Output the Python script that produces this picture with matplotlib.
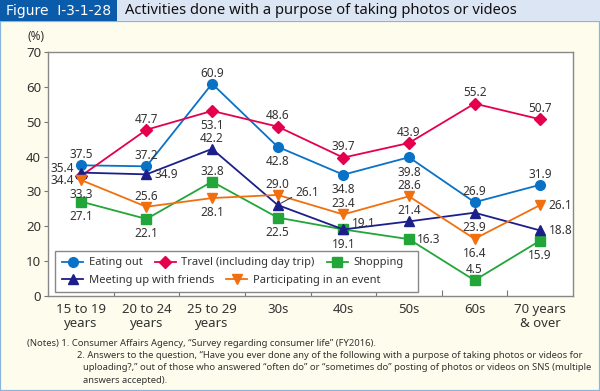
import matplotlib
matplotlib.use('Agg')
import matplotlib.pyplot as plt
from matplotlib.patches import Rectangle

plt.rcParams['font.family'] = ['Noto Sans', 'DejaVu Sans']

# data
categories = ['15 to 19\nyears', '20 to 24\nyears', '25 to 29\nyears', '30s', '40s', '50s', '60s', '70 years\n& over']
eating_out = [37.5, 37.2, 60.9, 42.8, 34.8, 39.8, 26.9, 31.9]
travel = [34.4, 47.7, 53.1, 48.6, 39.7, 43.9, 55.2, 50.7]
shopping = [27.1, 22.1, 32.8, 22.5, 19.1, 16.3, 4.5, 15.9]
meeting = [35.4, 34.9, 42.2, 26.1, 19.1, 21.4, 23.9, 18.8]
event = [33.3, 25.6, 28.1, 29.0, 23.4, 28.6, 16.4, 26.1]

names = ['Eating out', 'Travel (including day trip)', 'Shopping',
         'Meeting up with friends', 'Participating in an event']
series = [eating_out, travel, shopping, meeting, event]
colors = ['#0a72c6', '#e5004f', '#22a639', '#1c1f8a', '#f07010']
markers = ['o', 'D', 's', '^', 'v']
msizes = [7, 6.5, 6.5, 7, 7]

# where each value label sits: a=above, b=below, l/L=left (low/high), r/R=right (low/high), x=leader line
label_pos = [
    ['a', 'a', 'a', 'b', 'b', 'b', 'a', 'a'],
    ['l', 'a', 'b', 'a', 'a', 'a', 'a', 'a'],
    ['b', 'b', 'a', 'b', 'b', 'r', 'a', 'b'],
    ['L', 'r', 'a', 'x', 'R', 'a', 'b', 'r'],
    ['b', 'a', 'b', 'a', 'a', 'a', 'b', 'r'],
]
offsets = {
    'a': ((0, 3), 'center', 'bottom'),
    'b': ((0, -6), 'center', 'top'),
    'l': ((-5, -3), 'right', 'center'),
    'L': ((-5, 3), 'right', 'center'),
    'r': ((6, 0), 'left', 'center'),
    'R': ((6, 4), 'left', 'center'),
}

BG = '#fefcec'
txt = '#333333'

fig = plt.figure(figsize=(6, 3.91), dpi=100, facecolor=BG)

# header bar and frame
fig.patches.append(Rectangle((0, 0), 1, 1 - 21 / 391, transform=fig.transFigure,
                             facecolor='none', edgecolor='#8ab6de', lw=1.6, zorder=0))
fig.patches.append(Rectangle((0, 1 - 21 / 391), 1, 21 / 391, transform=fig.transFigure,
                             facecolor='#dce5f3', edgecolor='none', zorder=1))
fig.patches.append(Rectangle((0, 1 - 21 / 391), 117 / 600, 21 / 391, transform=fig.transFigure,
                             facecolor='#0b5bab', edgecolor='none', zorder=2))
fig.text(6 / 600, 1 - 10.5 / 391, 'Figure  I-3-1-28', color='white', fontsize=10,
         family=['Liberation Sans Narrow', 'DejaVu Sans'], va='center', ha='left', zorder=3)
fig.text(125 / 600, 1 - 10.5 / 391, 'Activities done with a purpose of taking photos or videos',
         color='#111111', fontsize=10.6, fontweight='medium', va='center', ha='left', zorder=3)

ax = fig.add_axes([48 / 600, 1 - 296 / 391, 525 / 600, 244 / 391])
ax.set_facecolor('white')

x = list(range(len(categories)))
handles = []
for vals, name, c, m, ms in zip(series, names, colors, markers, msizes):
    h, = ax.plot(x, vals, color=c, marker=m, markersize=ms, lw=1.3, label=name, zorder=3,
                 clip_on=False)
    handles.append(h)

for vals, pos in zip(series, label_pos):
    for i, (v, p) in enumerate(zip(vals, pos)):
        s = f'{v:.1f}'
        if p == 'x':
            ax.annotate(s, (i, v), xytext=(13, 9), textcoords='offset points', ha='left',
                        va='center', fontsize=8.5, color=txt,
                        arrowprops=dict(arrowstyle='-', color=txt, lw=0.7, shrinkA=1, shrinkB=3,
                                        relpos=(0, 0.3)))
        else:
            (dx, dy), ha, va = offsets[p]
            ax.annotate(s, (i, v), xytext=(dx, dy), textcoords='offset points', ha=ha, va=va,
                        fontsize=8.5, color=txt, zorder=4)

ax.set_xlim(-0.5, len(categories) - 0.5)
ax.set_ylim(0, 70)
ax.set_yticks(range(0, 71, 10))
ax.set_xticks(x)
ax.set_xticklabels(categories, fontsize=9.5, color=txt, linespacing=1.15)
ax.set_xticks([i + 0.5 for i in x[:-1]], minor=True)
ax.tick_params(axis='x', which='major', length=0, pad=5)
ax.tick_params(axis='x', which='minor', direction='in', length=4, color='#777777', width=0.8)
ax.tick_params(axis='y', direction='out', length=3, color='#777777', width=0.8,
               labelsize=9.5, labelcolor=txt, pad=2)
for sp in ax.spines.values():
    sp.set_color('#888888')
    sp.set_linewidth(1)
ax.text(-0.023, 1.035, '(%)', transform=ax.transAxes, ha='center', va='bottom', fontsize=8.5, color=txt)

# legend: two rows inside one box
box = Rectangle((7 / 525, 4 / 244), 363 / 525, 41 / 244, transform=ax.transAxes,
                facecolor='white', edgecolor='#888888', lw=1, zorder=5)
ax.add_patch(box)
leg_kw = dict(frameon=False, fontsize=8, handlelength=1.9, handletextpad=0.5,
              columnspacing=1.1, borderpad=0, borderaxespad=0, labelcolor=txt)
leg1 = ax.legend(handles[:3], names[:3], ncol=3, loc='center left',
                 bbox_to_anchor=(14 / 525, 33 / 244), **leg_kw)
leg1.set_zorder(6)
ax.add_artist(leg1)
leg2 = ax.legend(handles[3:], names[3:], ncol=2, loc='center left',
                 bbox_to_anchor=(14 / 525, 16 / 244), **leg_kw)
leg2.set_zorder(6)

notes = [
    ('(Notes) 1. Consumer Affairs Agency, \u201cSurvey regarding consumer life\u201d (FY2016).', 27),
    ('2. Answers to the question, \u201cHave you ever done any of the following with a purpose of taking photos or videos for', 77),
    ('uploading?,\u201d out of those who answered \u201coften do\u201d or \u201csometimes do\u201d posting of photos or videos on SNS (multiple', 83),
    ('answers accepted).', 83),
]
for k, (line, left) in enumerate(notes):
    fig.text(left / 600, 1 - (343 + k * 12.5) / 391, line, fontsize=6.8, color=txt,
             ha='left', va='center')

fig.savefig('out.png', dpi=100, facecolor=BG)
